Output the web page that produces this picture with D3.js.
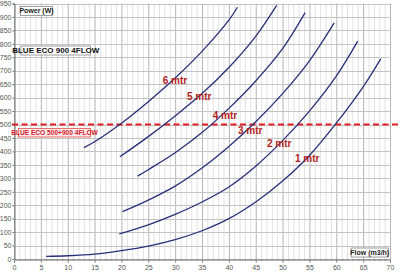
<!DOCTYPE html>
<html><head><meta charset="utf-8">
<script src="https://cdn.jsdelivr.net/npm/d3@7"></script>
<style>
html,body{margin:0;padding:0;background:#fff;}
svg{display:block;}
text{font-family:"Liberation Sans Narrow","Liberation Sans",Arial,sans-serif;}
</style></head>
<body>
<svg id="c" width="400" height="273"></svg>
<script>
// ---- data ----
const xTicks = d3.range(0, 71, 5);
const yTicks = d3.range(0, 951, 50);
const limitPower = 500;
const seriesNames = ["1 mtr","2 mtr","3 mtr","4 mtr","5 mtr","6 mtr"];
const curve1 = [[6,10],[10,12],[15,18],[20,31],[25,48],[30,72],[35,105],[40,150],[45,212],[50,290],[55,385],[60,505],[65,640],[68.3,745]];
const curve2 = [[19.6,93],[25,127],[30,166],[35,212],[40,268],[45,345],[50,440],[55,550],[60,680],[64,810]];
const curve3 = [[20.2,176],[25,219],[30,271],[35,338],[40,418],[45,510],[50,615],[55,737],[59.6,878]];
const curve4 = [[23,308],[25,332],[30,395],[35,470],[40,560],[45,662],[50,782],[54.2,916]];
const curve5 = [[19.7,380],[25,455],[30,532],[35,615],[40,712],[45,828],[48.9,943]];
const curve6 = [[13,414],[15,436],[20,505],[25,585],[30,673],[35,772],[40,888],[41.6,936]];
const curves = [curve1, curve2, curve3, curve4, curve5, curve6];
// label anchor points (flow, power) for each curve label
const labelPos = [[52.3,360],[47.1,416],[41.7,464],[37,520],[32.2,590],[27.7,650]];
const titleText = "BLUE ECO 900  4FLOW";
const limitText = "BLUE ECO 500+900  4FLOW";
const yTitle = "Power (W)";
const xTitle = "Flow (m3/h)";

// ---- chart ----
const svg = d3.select("#c");
const x = d3.scaleLinear().domain([0,70]).range([14,390]);
const y = d3.scaleLinear().domain([0,950]).range([259,3.5]);

const g = svg.append("g");
// minor vertical grid
g.selectAll(".vmin").data(d3.range(0,71,1)).enter().append("line")
  .attr("x1",d=>x(d)+0.5).attr("x2",d=>x(d)+0.5).attr("y1",y(950)).attr("y2",y(0))
  .attr("stroke",d=>d%5===0?"#b4b4b4":"#e2e2e2").attr("stroke-width",1);
// horizontal grid
g.selectAll(".h").data(yTicks).enter().append("line")
  .attr("x1",x(0)).attr("x2",x(70)).attr("y1",d=>Math.round(y(d))+0.5).attr("y2",d=>Math.round(y(d))+0.5)
  .attr("stroke","#c4c4c4").attr("stroke-width",1);

// axes
const xAxis = d3.axisBottom(x).tickValues(xTicks).tickSize(3).tickPadding(3);
const yAxis = d3.axisLeft(y).tickValues(yTicks).tickSize(2).tickPadding(1);
const gx = svg.append("g").attr("transform",`translate(0,${Math.round(y(0))+0.5})`).call(xAxis);
const gy = svg.append("g").attr("transform",`translate(${x(0)+0.5},0)`).call(yAxis);
[gx,gy].forEach(a=>{
  a.select(".domain").attr("stroke","#707070");
  a.selectAll(".tick line").attr("stroke","#707070");
  a.selectAll(".tick text").attr("fill","#555").style("font-size","7px")
   .style("font-family","'Liberation Sans',Arial,sans-serif");
});
// minor x ticks
svg.append("g").selectAll("line").data(d3.range(0,71,1)).enter().append("line")
  .attr("x1",d=>x(d)+0.5).attr("x2",d=>x(d)+0.5).attr("y1",y(0)).attr("y2",y(0)+2)
  .attr("stroke","#909090");

// limit line
svg.append("line").attr("x1",12).attr("x2",400)
  .attr("y1",y(limitPower)).attr("y2",y(limitPower))
  .attr("stroke","#e31b23").attr("stroke-width",2).attr("stroke-dasharray","6,3.5");

// curves
const line = d3.line().x(d=>x(d[0])).y(d=>y(d[1])).curve(d3.curveCatmullRom.alpha(0.5));
svg.append("g").selectAll("path").data(curves).enter().append("path")
  .attr("d",line).attr("fill","none").attr("stroke","#28307a").attr("stroke-width",1.3);

// curve labels
svg.append("g").selectAll("text").data(seriesNames).enter().append("text")
  .attr("x",(d,i)=>x(labelPos[i][0])).attr("y",(d,i)=>y(labelPos[i][1]))
  .attr("fill","#b51d1d").style("font-size","10px").style("font-weight","bold")
  .text(d=>d);

// boxed labels
function box(tx, bx, by, bw, bh, opts){
  svg.append("rect").attr("x",bx+0.5).attr("y",by+0.5).attr("width",bw).attr("height",bh)
    .attr("fill",opts.bg).attr("stroke",opts.border).attr("stroke-width",0.8);
  svg.append("text").attr("x",bx+bw/2+0.5).attr("y",by+bh/2+0.5).attr("dy","0.35em")
    .attr("text-anchor","middle").attr("fill",opts.color)
    .style("font-size",opts.size).style("font-weight","bold").text(tx);
}
box(yTitle, 20, 6, 32, 9, {bg:"#fff",border:"#888",color:"#222",size:"7px"});
box(titleText, 20.5, 45.5, 69.5, 9, {bg:"#fff",border:"#888",color:"#111",size:"8px"});
box(limitText, 18, 128, 72, 8.5, {bg:"#fdeaea",border:"#e05050",color:"#d0202a",size:"6.6px"});
box(xTitle, 350.5, 247.5, 37.5, 9, {bg:"#fff",border:"#888",color:"#222",size:"7px"});
</script>
</body></html>
